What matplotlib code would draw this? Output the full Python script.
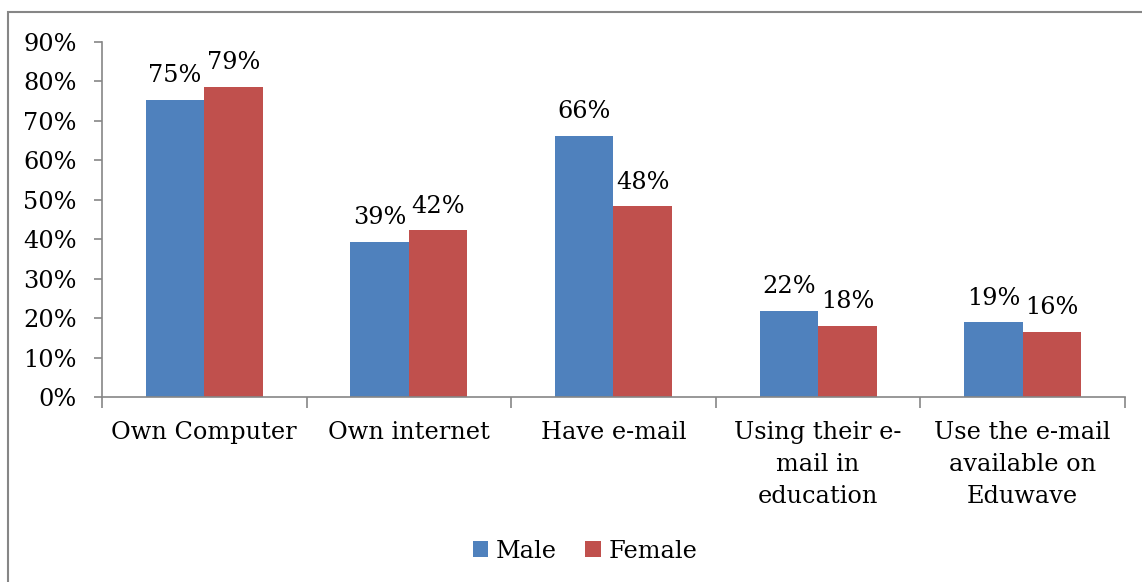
import matplotlib
matplotlib.use("Agg")
import matplotlib.pyplot as plt
import numpy as np
from matplotlib.patches import Rectangle

categories = ["Own Computer", "Own internet", "Have e-mail",
              "Using their e-\nmail in\neducation",
              "Use the e-mail\navailable on\nEduwave"]
male = [75.3, 39.4, 66.2, 21.9, 19.0]
female = [78.7, 42.3, 48.3, 18.0, 16.5]
male_labels = ["75%", "39%", "66%", "22%", "19%"]
female_labels = ["79%", "42%", "48%", "18%", "16%"]
yticks = [0, 10, 20, 30, 40, 50, 60, 70, 80, 90]

BLUE = "#4F81BD"
RED = "#C0504D"
GRAY = "#868686"

plt.rcParams['font.family'] = ['DejaVu Serif']
FS = 17.3

fig = plt.figure(figsize=(11.42, 5.82), dpi=100)
ax = fig.add_axes([102/1142, 1-397/582, (1125-102)/1142, (397-42)/582])

x = np.arange(len(categories))
w = 1/3.5
bm = ax.bar(x - w/2, male, width=w, color=BLUE, label="Male")
bf = ax.bar(x + w/2, female, width=w, color=RED, label="Female")

for rect, lab in zip(bm, male_labels):
    ax.annotate(lab, (rect.get_x() + rect.get_width()/2, rect.get_height()),
                xytext=(0, 9), textcoords="offset points", ha="center", va="bottom",
                fontsize=FS)
for rect, lab in zip(bf, female_labels):
    ax.annotate(lab, (rect.get_x() + rect.get_width()/2, rect.get_height()),
                xytext=(0, 9), textcoords="offset points", ha="center", va="bottom",
                fontsize=FS)

ax.set_xlim(-0.5, len(categories) - 0.5)
ax.set_ylim(0, 90)
ax.set_yticks(yticks)
ax.set_yticklabels([f"{v}%" for v in yticks], fontsize=FS)
ax.set_xticks(np.arange(-0.5, len(categories), 1.0))
ax.set_xticklabels([])
ax.set_xticks(x, minor=True)
ax.set_xticklabels(categories, minor=True, fontsize=FS, linespacing=1.5, va="top")
ax.tick_params(axis="x", which="minor", length=0, pad=17)
ax.tick_params(axis="x", which="major", length=8, color=GRAY, width=1.2)
ax.tick_params(axis="y", length=6, color=GRAY, width=1.2, pad=12)

for s in ["top", "right"]:
    ax.spines[s].set_visible(False)
for s in ["left", "bottom"]:
    ax.spines[s].set_color(GRAY)
    ax.spines[s].set_linewidth(1.2)

leg = fig.legend(handles=[bm, bf], labels=["Male", "Female"], loc="center",
                 bbox_to_anchor=(585/1142, 1-551/582), ncol=2, frameon=False,
                 fontsize=FS, handlelength=0.65, handleheight=0.65,
                 handletextpad=0.3, columnspacing=1.2)

fig.patches.append(Rectangle((8/1142, -0.1), 1.2, 1.1 - 12/582,
                             transform=fig.transFigure, fill=False,
                             edgecolor=GRAY, linewidth=1.5))

fig.savefig("out.png", dpi=100)
